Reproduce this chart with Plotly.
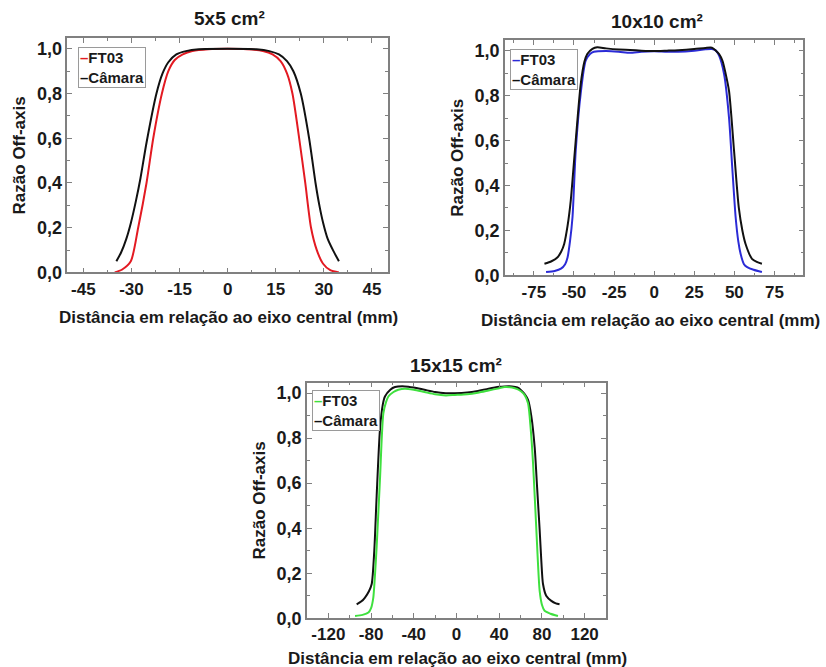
import plotly.graph_objects as go

# ---------------- data ----------------
# 5x5 cm2
s1_ft03_x = [-35.2, -33.0, -30.2, -27.9, -25.3, -23.2, -20.5, -18.5, -16.5, -14, -11, -6, 0, 6, 11, 14, 16.5, 18.5, 20.2, 22.3, 24.2, 26.0, 27.8, 29.7, 32.0, 34.7]
s1_ft03_y = [0.0, 0.012, 0.05, 0.2, 0.4, 0.6, 0.8, 0.9, 0.95, 0.975, 0.99, 0.998, 1.0, 0.998, 0.99, 0.975, 0.945, 0.89, 0.8, 0.6, 0.4, 0.2, 0.1, 0.04, 0.01, 0.0]
s1_cam_x = [-34.7, -33.2, -31.6, -30.2, -28.6, -27.2, -25.3, -22.2, -20.3, -18.5, -16, -13, -9, 0, 9, 13, 16, 18.5, 20.5, 22.8, 25.4, 27.4, 28.6, 29.8, 31.2, 33.0, 34.7]
s1_cam_y = [0.05, 0.09, 0.15, 0.22, 0.32, 0.42, 0.58, 0.8, 0.89, 0.94, 0.975, 0.99, 0.998, 1.0, 0.998, 0.99, 0.975, 0.945, 0.9, 0.8, 0.6, 0.4, 0.3, 0.22, 0.15, 0.095, 0.05]

# 10x10 cm2
s2_ft03_x = [-67.4, -62, -58.1, -55.5, -54, -52.5, -50.9, -48.9, -45.8, -42.7, -40, -37.6, -30, -22, -15, -8, 0, 8, 15, 25, 32, 36, 38.5, 40.5, 43.6, 46.7, 48.7, 50.8, 52.5, 53.9, 56, 58, 62, 67.2]
s2_ft03_y = [0.015, 0.02, 0.03, 0.05, 0.08, 0.15, 0.26, 0.556, 0.81, 0.955, 0.985, 0.995, 0.998, 0.995, 0.99, 0.995, 0.997, 0.995, 0.995, 1.0, 1.006, 1.007, 1.0, 0.978, 0.896, 0.70, 0.48, 0.26, 0.15, 0.096, 0.05, 0.037, 0.025, 0.015]
s2_cam_x = [-68.4, -64, -60.2, -58, -56.1, -54, -52, -50.5, -48.9, -45.8, -43.5, -41.7, -38.5, -35.5, -30, -22, -15, -8, 0, 8, 15, 25, 32, 36, 38.5, 40.5, 42.6, 44.5, 46.7, 49.8, 52.8, 55, 57, 61, 64, 67.2]
s2_cam_y = [0.052, 0.063, 0.081, 0.105, 0.14, 0.22, 0.333, 0.46, 0.6, 0.85, 0.95, 0.985, 1.008, 1.015, 1.01, 1.005, 1.003, 1.0, 0.998, 1.0, 1.002, 1.007, 1.012, 1.013, 1.0, 0.985, 0.955, 0.9, 0.82, 0.556, 0.30, 0.2, 0.14, 0.074, 0.06, 0.052]

# 15x15 cm2
s3_ft03_x = [-95, -88, -82.5, -80, -77.9, -76.5, -74.8, -71.7, -68.5, -66, -63.8, -59, -54.5, -48.3, -40, -30, -20, -10, -1.6, 10, 20, 30, 40, 45, 52, 57, 60.7, 64, 67, 69.5, 71.7, 74.8, 77.9, 80, 82.5, 88, 95]
s3_ft03_y = [0.01, 0.015, 0.025, 0.045, 0.092, 0.18, 0.315, 0.613, 0.91, 0.96, 0.985, 1.005, 1.015, 1.02, 1.015, 1.005, 0.995, 0.99, 0.992, 0.995, 1.002, 1.012, 1.022, 1.027, 1.025, 1.018, 1.007, 0.99, 0.955, 0.84, 0.687, 0.39, 0.12, 0.06, 0.033, 0.02, 0.01]
s3_cam_x = [-93.5, -89, -85.7, -82, -79.4, -77, -74.8, -71.7, -69, -67, -62, -57.6, -48.3, -40, -30, -20, -10, -1.6, 10, 20, 30, 40, 45, 52, 57, 60.7, 64, 67, 70, 73.2, 75.5, 77.9, 79.5, 81, 84, 88.8, 93, 96.5]
s3_cam_y = [0.062, 0.075, 0.092, 0.12, 0.152, 0.3, 0.54, 0.836, 0.95, 0.985, 1.015, 1.027, 1.03, 1.025, 1.015, 1.005, 1.0, 1.0, 1.003, 1.01, 1.02, 1.028, 1.03, 1.03, 1.025, 1.012, 0.995, 0.97, 0.9, 0.76, 0.58, 0.39, 0.25, 0.152, 0.1, 0.077, 0.066, 0.062]

titles = ["5x5 cm²", "10x10 cm²", "15x15 cm²"]
series_names = ["FT03", "Câmara"]
x_title = "Distância em relação ao eixo central (mm)"
y_title = "Razão Off-axis"

s1_xticks = [-45, -30, -15, 0, 15, 30, 45]
s1_xlabels = ["-45", "-30", "-15", "0", "15", "30", "45"]
s2_xticks = [-75, -50, -25, 0, 25, 50, 75]
s2_xlabels = ["-75", "-50", "-25", "0", "25", "50", "75"]
s3_xticks = [-120, -80, -40, 0, 40, 80, 120]
s3_xlabels = ["-120", "-80", "-40", "0", "40", "80", "120"]
yticks = [0.0, 0.2, 0.4, 0.6, 0.8, 1.0]
ylabels = ["0,0", "0,2", "0,4", "0,6", "0,8", "1,0"]

# ---------------- styling ----------------
FONT = "Liberation Sans, Arial, sans-serif"
DARK = "#1a1a1a"
GREY = "#808080"
RED = "#e31a22"
BLUE = "#2b2bd6"
GREEN = "#3fe03f"
BLACK = "#111111"

W = 826
H = 678
KY = H / 667.0   # layout positions below are given in 826x667 reference pixels

fig = go.Figure()

def add_line(x, y, color, xa, ya, name):
    fig.add_trace(go.Scatter(
        x=x, y=y, mode="lines", name=name, showlegend=False,
        line=dict(color=color, width=2, shape="spline", smoothing=0.7),
        xaxis=xa, yaxis=ya, hoverinfo="x+y+name"))

add_line(s1_ft03_x, s1_ft03_y, RED, "x", "y", series_names[0])
add_line(s1_cam_x, s1_cam_y, BLACK, "x", "y", series_names[1])
add_line(s2_ft03_x, s2_ft03_y, BLUE, "x2", "y2", series_names[0])
add_line(s2_cam_x, s2_cam_y, BLACK, "x2", "y2", series_names[1])
add_line(s3_cam_x, s3_cam_y, BLACK, "x3", "y3", series_names[1])
add_line(s3_ft03_x, s3_ft03_y, GREEN, "x3", "y3", series_names[0])

xtickfont = dict(family=FONT, size=17, color=DARK, weight="bold")
ytickfont = dict(family=FONT, size=18, color=DARK, weight="bold")
titlefont = dict(family=FONT, size=17, color=DARK, weight="bold")

def xaxis(domain, rng, tv, tt, mdt, anchor):
    return dict(domain=domain, range=rng, anchor=anchor,
                tickmode="array", tickvals=tv, ticktext=tt,
                ticks="inside", ticklen=5, tickwidth=1.2, tickcolor=GREY,
                showline=True, linecolor=GREY, linewidth=1.5, mirror="allticks",
                showgrid=False, zeroline=False, tickfont=xtickfont,
                minor=dict(ticks="inside", ticklen=3, tickwidth=1, tickcolor=GREY,
                           tickmode="linear", tick0=0, dtick=mdt, showgrid=False))

def yaxis(domain, anchor):
    return dict(domain=domain, range=[0, 1.047], anchor=anchor,
                tickmode="array", tickvals=yticks, ticktext=ylabels,
                ticks="inside", ticklen=5, tickwidth=1.2, tickcolor=GREY,
                showline=True, linecolor=GREY, linewidth=1.5, mirror="allticks",
                showgrid=False, zeroline=False, tickfont=ytickfont,
                minor=dict(ticks="inside", ticklen=3, tickwidth=1, tickcolor=GREY,
                           tickmode="linear", tick0=0, dtick=0.1, showgrid=False),
                title=dict(text=y_title, font=titlefont, standoff=7))

def dx(a, b):
    return [a / W, b / W]
def dy(top, bottom):
    return [1 - bottom * KY / H, 1 - top * KY / H]

fig.update_layout(
    width=W, height=H,
    margin=dict(l=0, r=0, t=0, b=0),
    paper_bgcolor="white", plot_bgcolor="white",
    font=dict(family=FONT, color=DARK),
    showlegend=False,
    xaxis=xaxis(dx(67.3, 388), [-50, 50], s1_xticks, s1_xlabels, 7.5, "y"),
    yaxis=yaxis(dy(38.3, 272), "x"),
    xaxis2=xaxis(dx(505, 803.3), [-93, 93], s2_xticks, s2_xlabels, 12.5, "y2"),
    yaxis2=yaxis(dy(40, 275), "x2"),
    xaxis3=xaxis(dx(307, 606), [-140, 140], s3_xticks, s3_xlabels, 20, "y3"),
    yaxis3=yaxis(dy(382, 617.3), "x3"),
)

def page_annot(text, px, py, size):
    fig.add_annotation(text=text, xref="paper", yref="paper",
                       x=px / W, y=1 - py * KY / H,
                       xanchor="center", yanchor="middle", showarrow=False,
                       font=dict(family=FONT, size=size, color=DARK, weight="bold"))

# subplot titles
for t, (px, py) in zip(titles, [(229, 18), (657, 21), (456, 365)]):
    page_annot(t, px, py, 19)

# x-axis titles
for px, py in [(228, 317), (650, 320), (457, 658)]:
    page_annot(x_title, px, py, 17)

# legends (boxed, short line sample)
leg = [("x", "y", RED, 0.034, 0.962), ("x2", "y2", BLUE, 0.017, 0.962), ("x3", "y3", GREEN, 0.016, 0.968)]
for xa, ya, col, lx, ly in leg:
    txt = (f'<span style="color:{col}">–</span>{series_names[0]}<br>'
           f'<span style="color:{BLACK}">–</span>{series_names[1]}')
    fig.add_annotation(text=txt, xref=f"{xa} domain", yref=f"{ya} domain", x=lx, y=ly,
                       xanchor="left", yanchor="top", showarrow=False, align="left",
                       bordercolor="#9a9a9a", borderwidth=1, borderpad=1, bgcolor="white",
                       font=dict(family=FONT, size=15, color=DARK, weight="bold"))

# remove the default page margin so the figure starts at the window's corner
fig.write_html("out.html", config={"displayModeBar": False},
               post_script="document.body.style.margin='0px';")
